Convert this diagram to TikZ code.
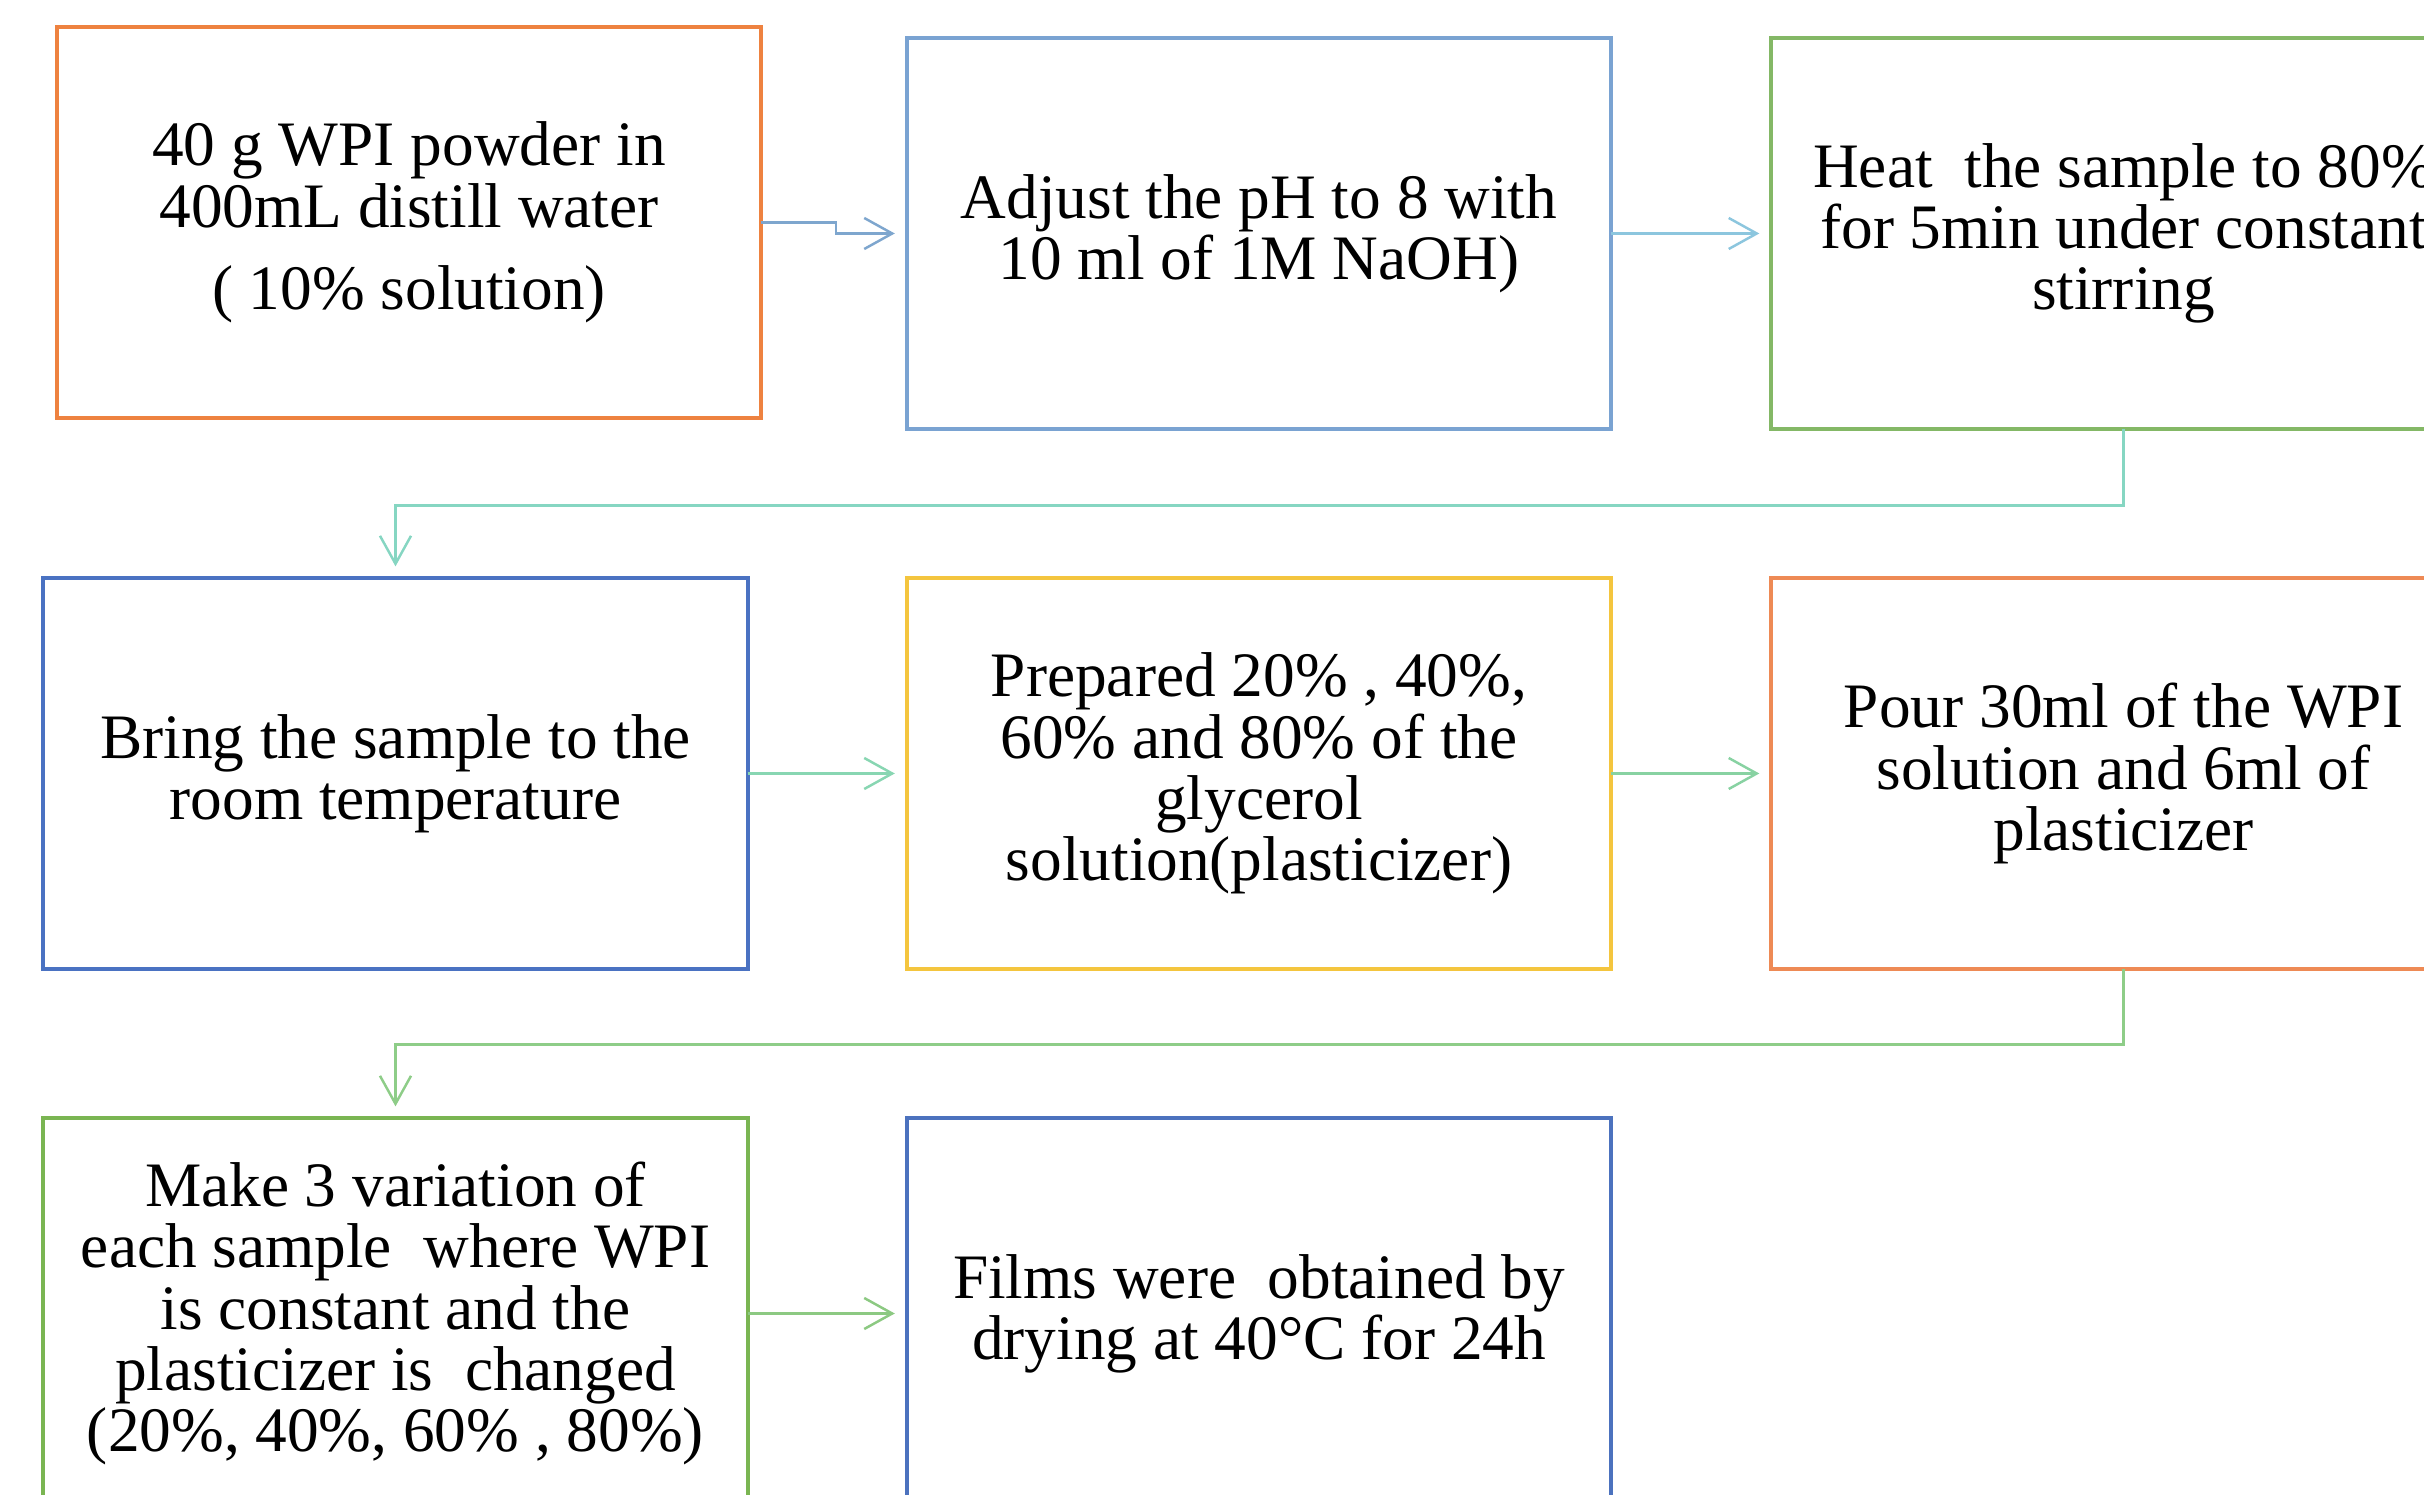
\documentclass[tikz,border=0pt]{standalone}
\usepackage{fontspec}
\setmainfont{Liberation Serif}
\usetikzlibrary{arrows.meta}
\definecolor{bOrangeA}{HTML}{EE8240}
\definecolor{bBlueA}{HTML}{7AA3D2}
\definecolor{bGreenA}{HTML}{84B866}
\definecolor{bBlueB}{HTML}{4A72C2}
\definecolor{bYellow}{HTML}{F4C53E}
\definecolor{bOrangeB}{HTML}{EE8A55}
\definecolor{bGreenB}{HTML}{7AB552}
\definecolor{bBlueC}{HTML}{4C72BE}
\definecolor{cA}{HTML}{7EA6CE}
\definecolor{cB}{HTML}{8CC6DE}
\definecolor{cC}{HTML}{86D6C2}
\definecolor{cD}{HTML}{88D6B2}
\definecolor{cE}{HTML}{88D2A2}
\definecolor{cF}{HTML}{8ECD88}
\definecolor{cG}{HTML}{8CC982}
\begin{document}
\begin{tikzpicture}[x=0.01cm,y=-0.01cm,
  box/.style={draw, line width=1.1pt, minimum width=7.04cm, minimum height=3.9cm,
    inner sep=0pt, outer sep=0pt, align=center, fill=white,
    font=\fontsize{18pt}{17.4pt}\selectfont},
  conn/.style={line width=0.7pt, -{Straight Barb[length=0.28cm,width=0.31cm]},
    shorten >=0.12cm}]
\useasboundingbox (0,0) rectangle (2424,1495);
\clip (0,0) rectangle (2424,1495);
\fill[white] (0,0) rectangle (2424,1495);

\node[box, draw=bOrangeA] (b1) at (409,222.5)
  {40 g WPI powder in\\400mL distill water\\[6pt](\ 10\% solution)};
\node[box, draw=bBlueA] (b2) at (1259,233.5)
  {Adjust the pH to 8 with\\10 ml of 1M NaOH)};
\node[box, draw=bGreenA] (b3) at (2123.5,233.5)
  {Heat\ \ the sample to 80\%\\for 5min under constant\\stirring};
\node[box, draw=bBlueB] (b4) at (395.5,773.5)
  {Bring the sample to the\\room temperature};
\node[box, draw=bYellow] (b5) at (1259,773.5)
  {Prepared 20\% , 40\%,\\60\% and 80\% of the\\glycerol\\solution(plasticizer)};
\node[box, draw=bOrangeB] (b6) at (2123.5,773.5)
  {Pour 30ml of the WPI\\solution and 6ml of\\plasticizer};
\node[box, draw=bGreenB] (b7) at (395.5,1313.5)
  {Make 3 variation of\\each sample\ \ where WPI\\is constant and the\\plasticizer is\ \ changed\\(20\%, 40\%, 60\% , 80\%)};
\node[box, draw=bBlueC] (b8) at (1259,1313.5)
  {Films were\ \ obtained by\\drying at 40°C for 24h};

\draw[conn, cA] (b1.east) -- ++(75,0) |- (b2.west);
\draw[conn, cB] (b2.east) -- (b3.west);
\draw[conn, cC] (b3.south) -- ++(0,77) -| (b4.north);
\draw[conn, cD] (b4.east) -- (b5.west);
\draw[conn, cE] (b5.east) -- (b6.west);
\draw[conn, cF] (b6.south) -- ++(0,76) -| (b7.north);
\draw[conn, cG] (b7.east) -- (b8.west);
\end{tikzpicture}
\end{document}
